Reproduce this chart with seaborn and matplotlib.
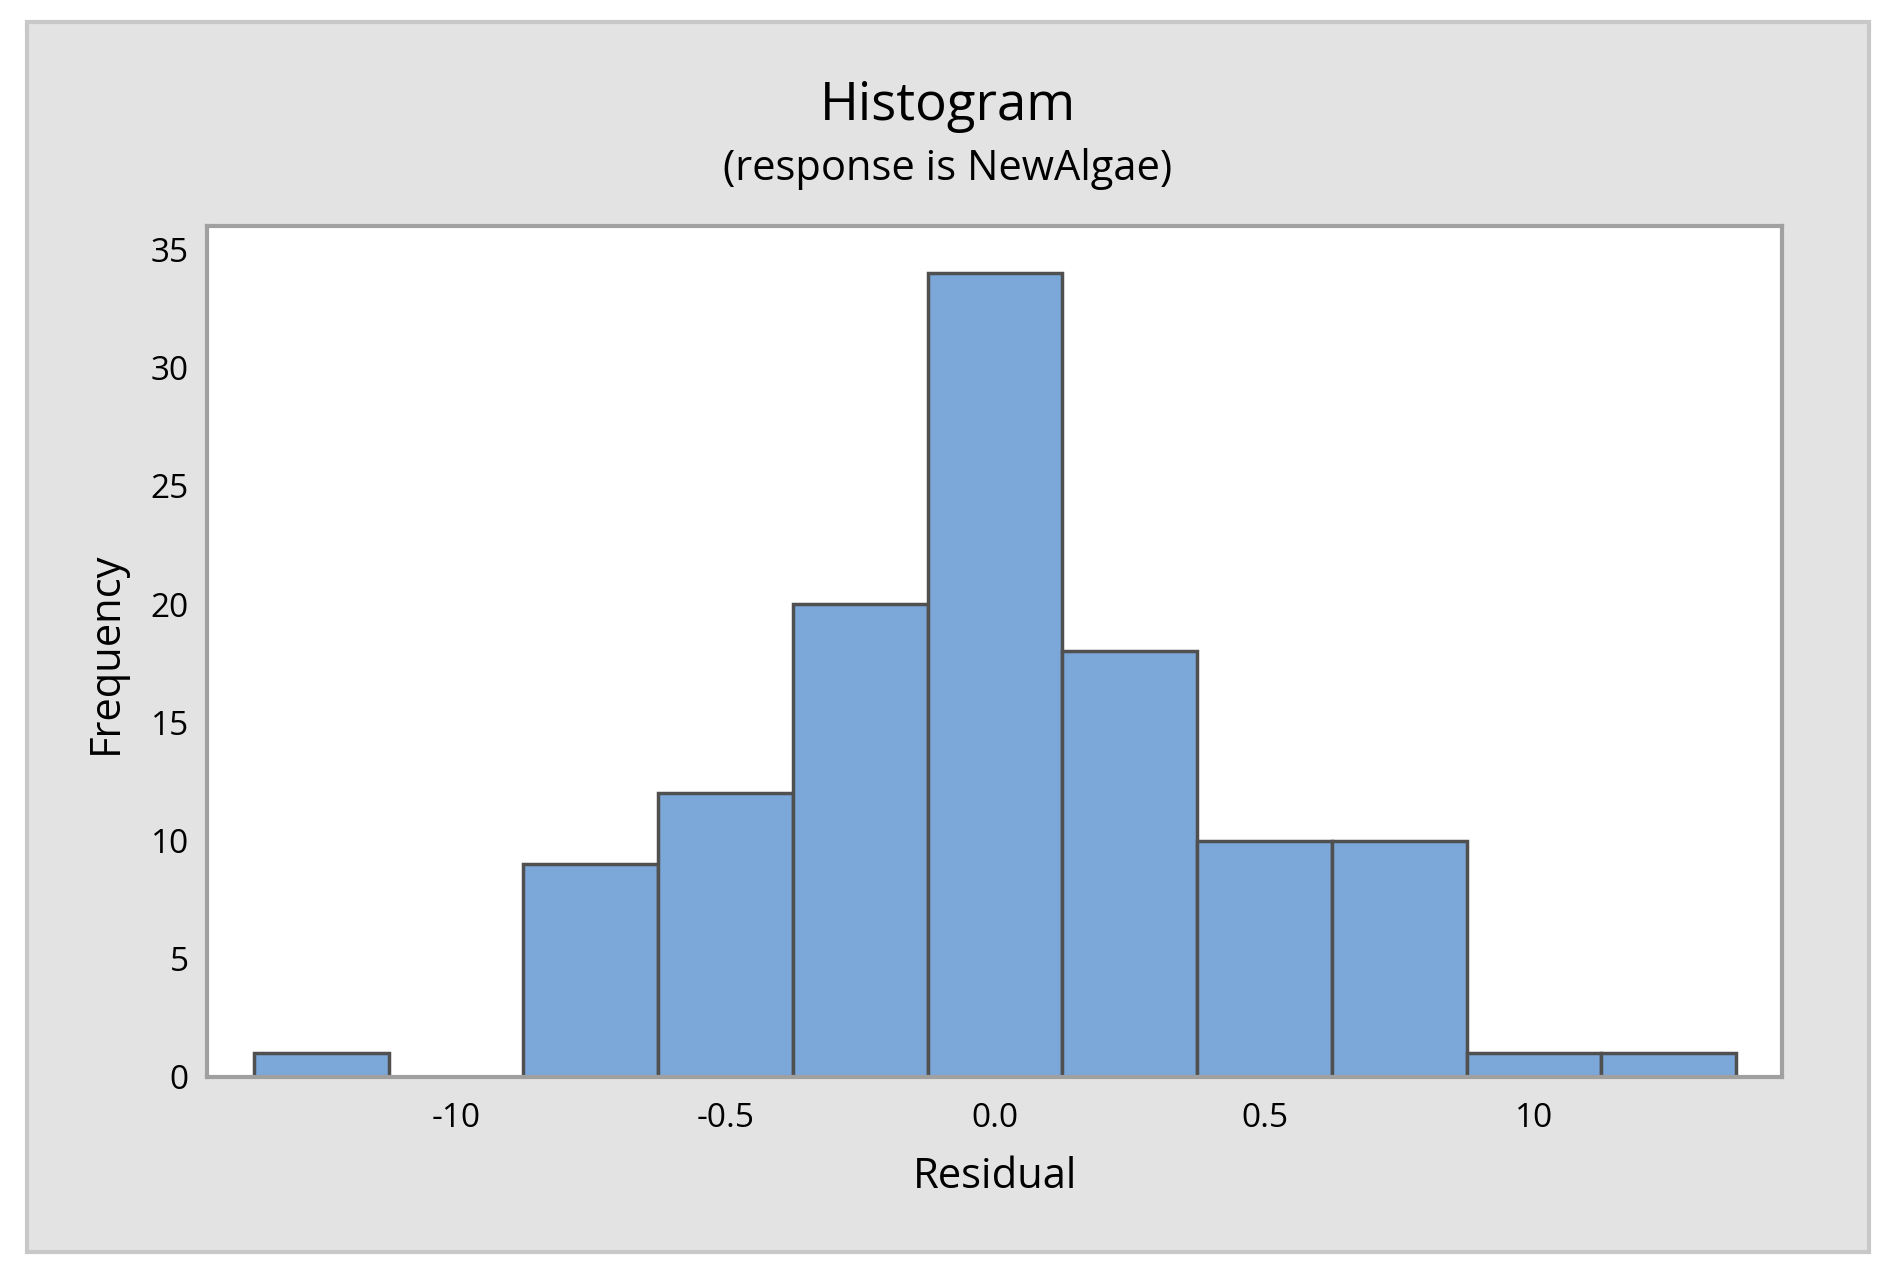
import numpy as np
import matplotlib
matplotlib.use("Agg")
import matplotlib.pyplot as plt
import seaborn as sns
from matplotlib.patches import Rectangle

# residual bins (centers, width 0.25) and counts
bin_centers = [-1.25, -1.0, -0.75, -0.5, -0.25, 0.0, 0.25, 0.5, 0.75, 1.0, 1.25]
counts = [1, 0, 9, 12, 20, 34, 18, 10, 10, 1, 1]
bin_edges = [-1.375, -1.125, -0.875, -0.625, -0.375, -0.125, 0.125, 0.375, 0.625, 0.875, 1.125, 1.375]
xtick_vals = [-1.0, -0.5, 0.0, 0.5, 1.0]
xtick_labels = ["-10", "-0.5", "0.0", "0.5", "10"]
ytick_vals = [0, 5, 10, 15, 20, 25, 30, 35]

sns.set_style("white")
plt.rcParams['font.family'] = ['Open Sans', 'DejaVu Sans']
plt.rcParams['text.color'] = 'black'

fig = plt.figure(figsize=(18.96, 12.83), dpi=100)
fig.patch.set_facecolor("white")
bg = Rectangle((0.0142, 0.0242), 0.9716, 0.9587, transform=fig.transFigure,
               facecolor="#e3e3e3", edgecolor="#c8c8c8", linewidth=3, zorder=-10)
fig.add_artist(bg)

ax = fig.add_axes([0.1092, 0.1606, 0.8307, 0.6633])
ax.set_zorder(5)
ax.set_facecolor("white")
sns.histplot(x=bin_centers, weights=counts, bins=bin_edges, ax=ax,
             color="#7ba7d9", alpha=1, edgecolor="#505050", linewidth=2.5)

ax.set_xlim(-1.462, 1.46)
ax.set_ylim(0, 36)
ax.set_xticks(xtick_vals)
ax.set_xticklabels(xtick_labels)
ax.set_yticks(ytick_vals)
ax.tick_params(axis="both", labelsize=24, colors="#a0a0a0", labelcolor="black",
               length=10, width=3, direction="out")
ax.tick_params(axis="x", pad=8)
ax.tick_params(axis="y", pad=3)
for s in ax.spines.values():
    s.set_color("#a0a0a0")
    s.set_linewidth(3)

ax.set_xlabel("")
ax.set_ylabel("")
fig.text(0.525, 0.083, "Residual", ha="center", va="center", fontsize=30)
fig.text(0.056, 0.491, "Frequency", ha="center", va="center", fontsize=30, rotation=90)
fig.text(0.5, 0.917, "Histogram", ha="center", va="center", fontsize=38)
fig.text(0.5, 0.868, "(response is NewAlgae)", ha="center", va="center", fontsize=30)

fig.savefig("out.png", dpi=100)
